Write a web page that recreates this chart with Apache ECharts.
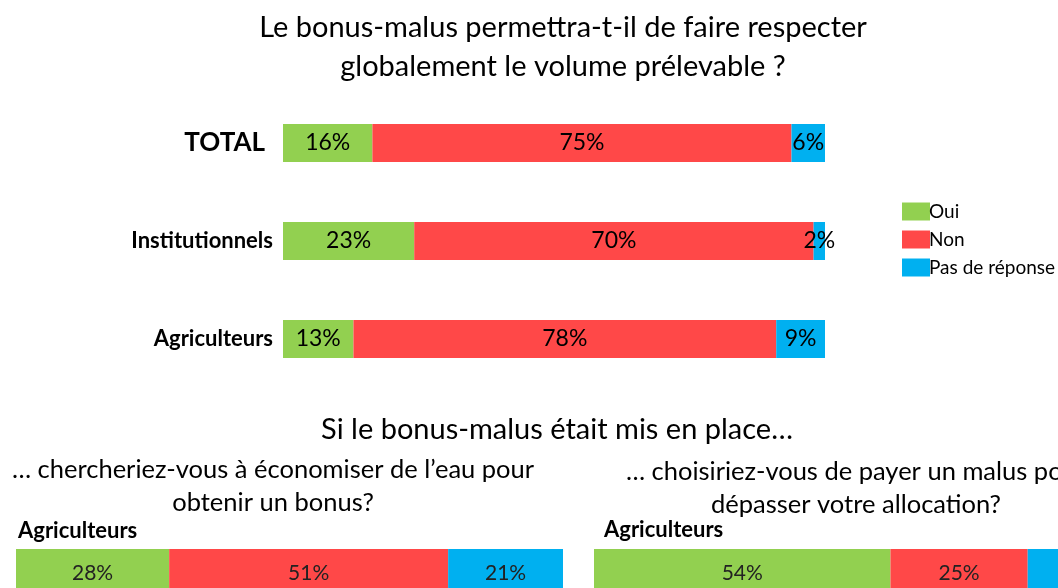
<!DOCTYPE html>
<html>
<head>
<meta charset="utf-8">
<script src="https://cdn.jsdelivr.net/npm/echarts@6/dist/echarts.min.js"></script>
<style>
  html, body { margin: 0; padding: 0; background: #fff; overflow: hidden; }
  /* plus grand que la fenêtre : les barres du bas sont coupées comme dans l'original */
  #chart { width: 1160px; height: 610px; }
</style>
</head>
<body>
<div id="chart"></div>
<script>
// catégories du graphique principal
const groups = ['TOTAL', 'Institutionnels', 'Agriculteurs'];
const answers = ['Oui', 'Non', 'Pas de réponse'];
const colors = ['#92D050', '#FF4848', '#00B0F0'];

// pourcentages lus (par groupe)
const oui = [16, 23, 13];
const non = [75, 70, 78];
const nsp = [6, 2, 9];

// sous-questions (Agriculteurs)
const economiser = [28, 51, 21];
const payerMalus = [54, 25, 21];

const FONT = 'Lato, "Open Sans", sans-serif';

// barres à 100% : longueur normalisée, étiquette = valeur brute
const topSeries = [oui, non, nsp].map((vals, k) => ({
    name: answers[k],
    type: 'bar',
    stack: 'top',
    xAxisIndex: 0,
    yAxisIndex: 0,
    barWidth: 38,
    itemStyle: {color: colors[k]},
    label: {
        show: true,
        position: 'inside',
        color: '#000',
        fontFamily: FONT,
        fontSize: 23,
        formatter: p => p.data.raw + '%'
    },
    data: vals.map((v, i) => ({value: v / (oui[i] + non[i] + nsp[i]) * 100, raw: v}))
}));

const subSeries = (vals, idx) => vals.map((v, k) => ({
    name: answers[k],
    type: 'bar',
    stack: 'sub' + idx,
    xAxisIndex: idx,
    yAxisIndex: idx,
    barWidth: 48,
    itemStyle: {color: colors[k]},
    label: {
        show: true,
        position: 'inside',
        color: '#222',
        fontFamily: FONT,
        fontSize: 21,
        formatter: p => p.value + '%'
    },
    data: [v]
}));

const chart = echarts.init(document.getElementById('chart'));

const textEl = (text, x, y, size, align, weight) => ({
    type: 'text',
    style: {
        text: text,
        x: x,
        y: y,
        textAlign: align || 'center',
        textVerticalAlign: 'middle',
        font: (weight || 'normal') + ' ' + size + 'px ' + FONT,
        fill: '#000'
    }
});

const option = {
    animation: false,
    backgroundColor: '#fff',
    legend: {
        orient: 'vertical',
        left: 897,
        top: 197,
        itemWidth: 28,
        itemHeight: 18,
        itemGap: 9,
        icon: 'rect',
        data: answers,
        textStyle: {fontFamily: FONT, fontSize: 19, lineHeight: 18, color: '#000', padding: [0, 0, 0, -6]}
    },
    grid: [
        {left: 283, width: 542, top: 94, height: 294},
        {left: 16, width: 547, top: 549, height: 48},
        {left: 594, width: 549, top: 549, height: 48}
    ],
    xAxis: [0, 1, 2].map(i => ({
        type: 'value',
        gridIndex: i,
        min: 0,
        max: 100,
        show: false
    })),
    yAxis: [
        {
            type: 'category',
            gridIndex: 0,
            inverse: true,
            data: groups,
            axisLine: {show: false},
            axisTick: {show: false},
            axisLabel: {
                margin: 10,
                formatter: v => v === 'TOTAL' ? '{big|' + v + '}' : '{mid|' + v + '}',
                rich: {
                    big: {fontFamily: FONT, fontSize: 26, fontWeight: 'bold', color: '#000', padding: [0, 8, 0, 0]},
                    mid: {fontFamily: FONT, fontSize: 22, fontWeight: 'bold', color: '#000'}
                }
            }
        },
        {type: 'category', gridIndex: 1, data: ['Agriculteurs'], show: false},
        {type: 'category', gridIndex: 2, data: ['Agriculteurs'], show: false}
    ],
    graphic: [
        textEl('Le bonus-malus permettra-t-il de faire respecter', 563, 28, 29),
        textEl('globalement le volume prélevable ?', 563, 67, 29),
        textEl('Si le bonus-malus était mis en place…', 557, 430, 29),
        textEl('… chercheriez-vous à économiser de l’eau pour', 273, 470, 25.5),
        textEl('obtenir un bonus?', 273, 503, 25.5),
        textEl('… choisiriez-vous de payer un malus pour', 856, 472, 25.5),
        textEl('dépasser votre allocation?', 856, 505, 25.5),
        textEl('Agriculteurs', 18, 531, 22, 'left', 'bold'),
        textEl('Agriculteurs', 604, 530, 22, 'left', 'bold')
    ],
    series: [
        ...topSeries,
        ...subSeries(economiser, 1),
        ...subSeries(payerMalus, 2)
    ]
};

chart.setOption(option);
</script>
</body>
</html>
